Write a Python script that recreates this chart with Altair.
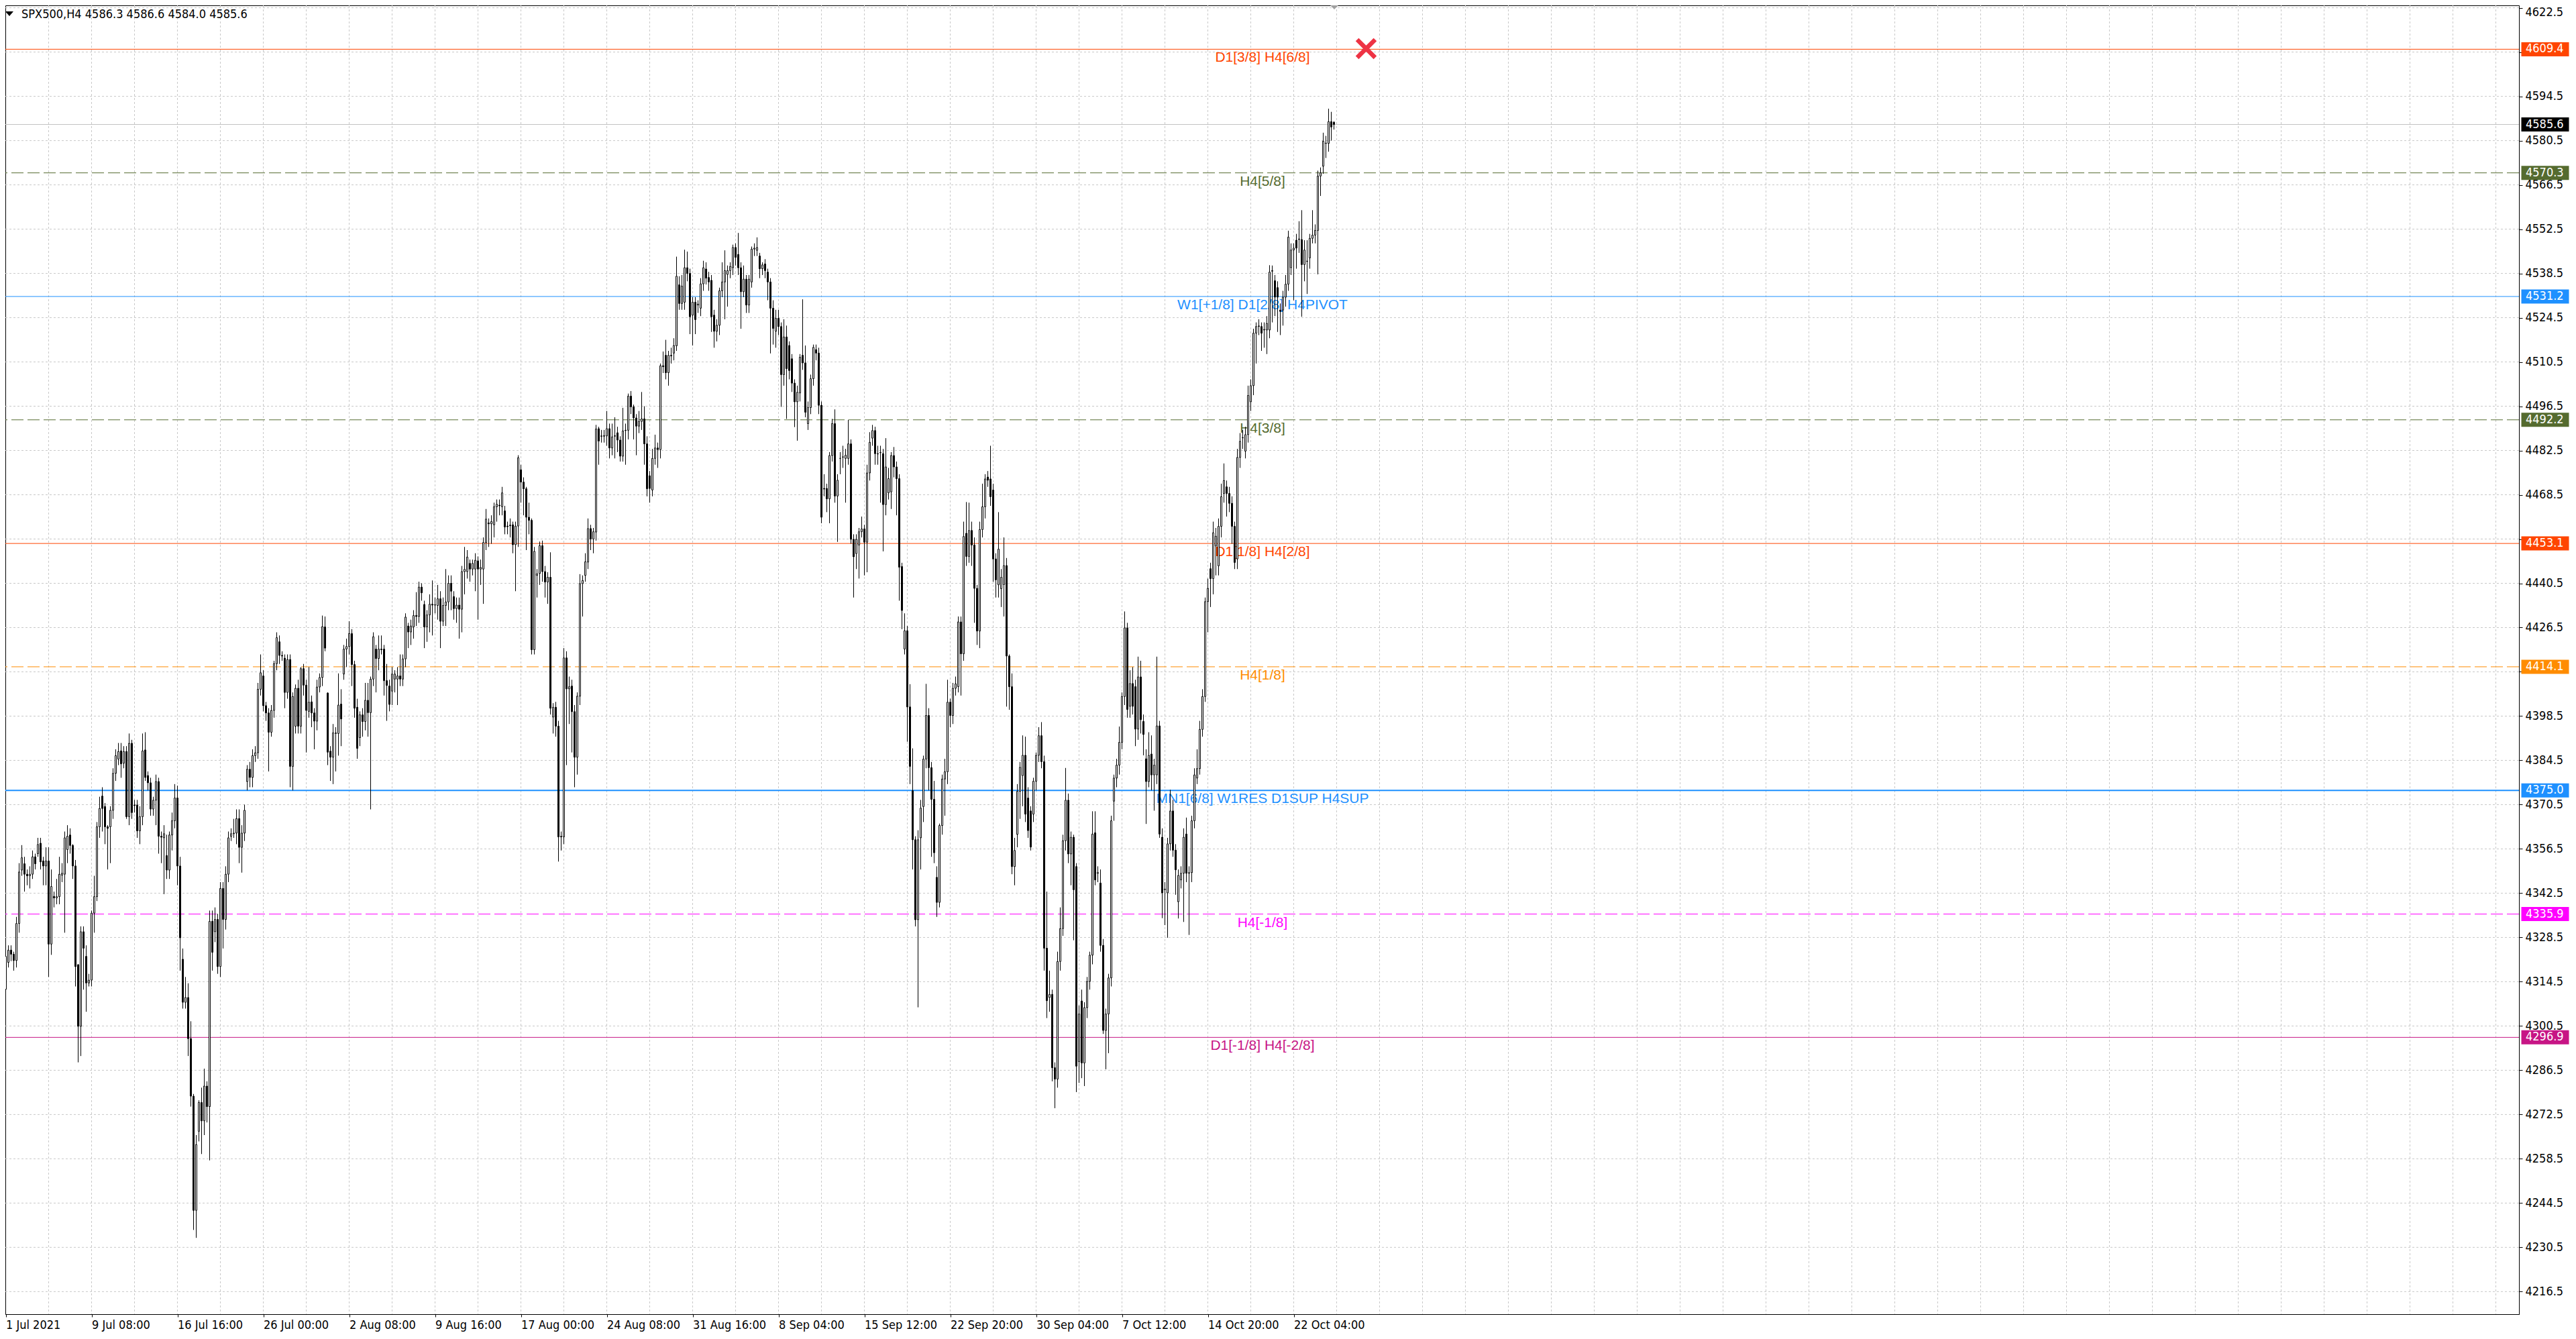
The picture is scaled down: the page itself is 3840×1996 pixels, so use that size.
import altair as alt
import pandas as pd

# ---------------- data (SPX500, H4 candles) ----------------
opens = [
    4312.1, 4320.6, 4324.5, 4323.2, 4321.2, 4332.9, 4349.8, 4351.8, 4348.5, 4348.0,
    4348.5, 4354.0, 4355.0, 4358.3, 4352.7, 4351.1, 4352.7, 4326.4, 4341.5, 4341.0,
    4341.4, 4348.2, 4348.5, 4356.3, 4360.9, 4357.6, 4351.1, 4319.9, 4300.4, 4330.3,
    4322.5, 4314.1, 4315.0, 4336.2, 4341.4, 4363.5, 4373.2, 4369.9, 4363.5, 4363.5,
    4368.7, 4380.4, 4384.9, 4387.5, 4383.6, 4387.3, 4366.7, 4389.9, 4370.4, 4370.4,
    4362.2, 4366.7, 4387.8, 4379.7, 4377.4, 4369.1, 4371.9, 4377.8, 4360.5, 4360.0,
    4354.4, 4349.8, 4360.9, 4365.4, 4372.6, 4351.1, 4321.6, 4308.0, 4309.5, 4296.5,
    4278.3, 4242.2, 4267.2, 4276.3, 4270.5, 4281.5, 4275.0, 4333.6, 4330.3, 4334.2,
    4319.3, 4344.0, 4334.2, 4348.5, 4360.5, 4361.3, 4361.5, 4366.1, 4357.0, 4361.5,
    4377.8, 4381.7, 4379.1, 4386.0, 4386.9, 4407.0, 4411.2, 4401.8, 4399.5, 4393.4,
    4400.3, 4415.1, 4422.0, 4417.7, 4416.8, 4406.0, 4416.4, 4382.6, 4395.3, 4407.3,
    4395.3, 4413.5, 4408.3, 4400.0, 4403.0, 4399.5, 4396.9, 4407.7, 4410.7, 4426.7,
    4405.8, 4387.4, 4385.5, 4393.0, 4393.0, 4402.3, 4411.8, 4419.7, 4420.5, 4424.6,
    4414.8, 4401.3, 4391.7, 4398.9, 4396.8, 4403.5, 4399.6, 4410.2, 4419.7, 4416.7,
    4419.7, 4419.7, 4409.7, 4408.0, 4406.4, 4410.2, 4410.2, 4411.2, 4410.2, 4416.6,
    4427.0, 4425.1, 4426.7, 4430.3, 4430.0, 4439.3, 4433.8, 4426.7, 4430.5, 4433.9,
    4433.6, 4433.5, 4435.6, 4428.5, 4433.5, 4434.6, 4440.5, 4436.3, 4432.5, 4433.6,
    4432.3, 4444.2, 4444.2, 4446.8, 4445.0, 4445.0, 4447.6, 4445.0, 4445.0, 4453.4,
    4459.6, 4459.3, 4459.0, 4464.7, 4465.2, 4464.7, 4463.4, 4458.6, 4458.9, 4459.0,
    4452.7, 4458.6, 4476.4, 4472.5, 4470.4, 4461.4, 4460.4, 4419.5, 4443.0, 4443.6,
    4452.4, 4444.2, 4440.9, 4442.4, 4398.2, 4401.3, 4395.3, 4360.5, 4360.3, 4416.9,
    4407.1, 4408.0, 4399.9, 4385.5, 4404.8, 4440.4, 4443.0, 4447.2, 4457.8, 4454.5,
    4456.7, 4489.4, 4487.1, 4487.0, 4487.1, 4489.4, 4483.3, 4487.0, 4488.1, 4485.8,
    4480.7, 4488.9, 4488.9, 4499.7, 4496.3, 4492.8, 4490.2, 4491.7, 4492.5, 4484.6,
    4474.5, 4470.0, 4480.0, 4483.3, 4482.8, 4509.3, 4512.6, 4507.1, 4512.6, 4513.3,
    4515.6, 4534.9, 4529.0, 4529.4, 4540.3, 4538.5, 4525.3, 4529.4, 4528.5, 4527.5,
    4535.2, 4539.9, 4537.2, 4536.3, 4525.3, 4520.2, 4522.1, 4533.0, 4535.8, 4538.2,
    4539.4, 4540.3, 4546.7, 4544.5, 4540.3, 4532.7, 4536.7, 4528.5, 4535.8, 4546.2,
    4545.8, 4544.0, 4540.0, 4541.5, 4538.9, 4535.8, 4527.5, 4520.2, 4524.3, 4521.7,
    4506.5, 4518.4, 4515.7, 4511.5, 4503.8, 4497.9, 4500.7, 4512.6, 4510.2, 4491.0,
    4496.1, 4505.2, 4514.4, 4513.3, 4496.8, 4470.5, 4470.5, 4467.2, 4480.9, 4491.0,
    4468.1, 4480.0, 4480.5, 4480.0, 4480.0, 4484.6, 4454.4, 4449.9, 4452.6, 4456.8,
    4457.7, 4453.5, 4475.4, 4486.4, 4488.8, 4481.5, 4481.8, 4481.5, 4465.4, 4469.1,
    4469.4, 4480.9, 4477.3, 4473.6, 4445.8, 4419.7, 4425.5, 4401.4, 4374.9, 4359.4,
    4334.1, 4360.0, 4369.9, 4384.9, 4398.7, 4382.2, 4372.2, 4347.5, 4339.6, 4363.9,
    4378.6, 4380.9, 4402.9, 4398.7, 4407.3, 4407.8, 4428.3, 4418.2, 4456.3, 4449.0,
    4457.2, 4452.6, 4438.9, 4425.4, 4457.5, 4464.7, 4474.1, 4473.5, 4470.0, 4448.2,
    4440.0, 4438.8, 4440.1, 4446.1, 4417.5, 4407.8, 4350.9, 4361.1, 4374.7, 4379.7,
    4386.1, 4372.6, 4368.5, 4367.5, 4377.9, 4386.1, 4392.3, 4384.1, 4325.1, 4309.5,
    4310.5, 4287.3, 4283.7, 4320.9, 4331.3, 4359.1, 4371.9, 4354.9, 4360.2, 4350.9,
    4289.2, 4308.4, 4288.8, 4306.3, 4314.6, 4322.9, 4361.6, 4348.8, 4345.7, 4326.0,
    4299.1, 4304.3, 4315.7, 4371.6, 4378.9, 4383.0, 4390.2, 4404.7, 4426.4, 4401.6,
    4408.8, 4407.8, 4394.4, 4410.9, 4396.8, 4385.0, 4377.8, 4386.5, 4379.9, 4379.9,
    4395.4, 4360.2, 4343.6, 4342.6, 4358.1, 4368.5, 4356.1, 4339.8, 4346.7, 4348.8,
    4361.2, 4348.8, 4349.0, 4365.4, 4378.9, 4381.9, 4394.3, 4404.7, 4434.7, 4445.1,
    4442.0, 4452.3, 4446.0, 4458.5, 4468.9, 4471.0, 4468.9, 4465.8, 4458.5, 4448.2,
    4480.3, 4486.5, 4482.3, 4487.5, 4497.9, 4503.0, 4519.6, 4521.7, 4521.7, 4520.6,
    4520.6, 4520.6, 4539.2, 4536.2, 4534.0, 4526.9, 4526.9, 4531.0, 4535.1, 4540.3,
    4545.9, 4549.0, 4549.2, 4549.2, 4541.3, 4542.4, 4543.4, 4549.6, 4550.6, 4552.1,
    4569.3, 4572.4, 4579.7, 4579.6, 4586.5, 4586.3,
]
highs = [
    4323.0, 4326.0, 4326.0, 4324.0, 4335.0, 4352.0, 4357.7, 4354.0, 4350.0, 4351.0,
    4356.0, 4355.0, 4360.0, 4360.0, 4354.0, 4357.0, 4357.0, 4350.0, 4343.0, 4347.0,
    4354.0, 4352.0, 4362.0, 4364.0, 4363.0, 4358.0, 4353.0, 4320.0, 4332.0, 4332.0,
    4326.0, 4317.0, 4337.0, 4348.0, 4365.0, 4373.0, 4376.0, 4371.0, 4364.0, 4370.0,
    4382.0, 4388.0, 4390.0, 4390.0, 4389.0, 4389.0, 4393.0, 4391.0, 4372.0, 4372.0,
    4370.0, 4393.0, 4393.4, 4381.0, 4379.0, 4373.0, 4380.0, 4379.0, 4362.0, 4364.0,
    4361.0, 4362.0, 4368.0, 4377.0, 4376.5, 4354.0, 4325.0, 4316.0, 4314.0, 4302.0,
    4279.0, 4266.0, 4277.0, 4281.0, 4287.0, 4283.0, 4337.0, 4337.0, 4338.0, 4336.0,
    4346.0, 4346.0, 4351.0, 4362.0, 4363.0, 4366.0, 4369.0, 4369.0, 4364.0, 4370.5,
    4383.0, 4384.0, 4388.0, 4389.0, 4409.0, 4418.0, 4413.0, 4403.0, 4401.0, 4402.0,
    4416.0, 4425.0, 4424.0, 4419.0, 4418.0, 4418.0, 4418.0, 4406.0, 4408.5, 4410.0,
    4414.0, 4415.0, 4410.0, 4414.0, 4405.0, 4401.0, 4410.0, 4412.0, 4430.3, 4430.0,
    4406.0, 4389.0, 4396.0, 4395.0, 4412.0, 4407.0, 4421.0, 4423.0, 4428.5, 4426.0,
    4416.0, 4404.0, 4400.0, 4401.0, 4409.0, 4409.0, 4411.0, 4425.0, 4421.0, 4424.0,
    4424.0, 4421.0, 4415.0, 4410.0, 4414.0, 4413.0, 4414.0, 4418.0, 4418.0, 4431.0,
    4428.0, 4429.0, 4432.0, 4437.7, 4441.0, 4440.5, 4435.0, 4432.0, 4437.0, 4441.4,
    4436.0, 4440.0, 4438.0, 4436.0, 4445.0, 4443.0, 4443.0, 4438.0, 4436.0, 4436.0,
    4446.0, 4452.0, 4451.0, 4448.0, 4448.0, 4450.0, 4449.0, 4448.0, 4455.0, 4464.0,
    4461.0, 4462.0, 4466.0, 4467.0, 4467.0, 4471.0, 4465.0, 4460.0, 4461.0, 4460.0,
    4460.0, 4481.0, 4478.0, 4474.0, 4471.0, 4466.0, 4461.0, 4452.0, 4445.0, 4453.7,
    4454.0, 4446.0, 4444.0, 4450.3, 4402.6, 4403.0, 4397.0, 4362.0, 4420.0, 4419.0,
    4411.0, 4410.0, 4402.0, 4406.0, 4443.4, 4443.0, 4450.0, 4461.0, 4459.0, 4458.0,
    4490.6, 4490.0, 4489.0, 4489.0, 4495.0, 4491.0, 4491.0, 4493.0, 4490.0, 4487.0,
    4496.0, 4491.0, 4500.5, 4501.3, 4497.0, 4494.0, 4495.0, 4501.0, 4496.5, 4487.0,
    4476.0, 4483.0, 4487.5, 4485.0, 4510.0, 4513.8, 4517.5, 4514.0, 4515.0, 4518.0,
    4543.8, 4537.6, 4538.0, 4546.0, 4545.4, 4540.0, 4531.0, 4531.0, 4530.0, 4537.0,
    4542.5, 4542.0, 4539.0, 4538.0, 4527.0, 4524.0, 4534.0, 4542.0, 4545.8, 4541.0,
    4542.0, 4547.6, 4548.0, 4551.3, 4542.0, 4541.0, 4538.0, 4538.0, 4547.0, 4548.0,
    4549.9, 4545.0, 4542.0, 4543.0, 4540.0, 4537.0, 4530.0, 4527.0, 4527.0, 4523.0,
    4524.0, 4522.0, 4517.0, 4513.0, 4505.0, 4503.0, 4513.0, 4530.3, 4515.7, 4498.0,
    4506.5, 4516.0, 4516.0, 4515.0, 4498.0, 4475.0, 4472.0, 4482.0, 4492.5, 4495.5,
    4475.0, 4482.0, 4484.0, 4483.0, 4492.2, 4486.0, 4456.0, 4456.0, 4458.0, 4461.6,
    4459.0, 4478.0, 4488.3, 4490.6, 4490.0, 4484.0, 4484.0, 4483.0, 4486.4, 4477.0,
    4482.0, 4483.6, 4479.0, 4475.0, 4447.0, 4431.0, 4427.0, 4408.6, 4388.3, 4360.5,
    4362.4, 4372.0, 4386.0, 4408.7, 4401.0, 4384.0, 4378.0, 4351.0, 4364.5, 4380.0,
    4385.0, 4410.0, 4404.0, 4409.0, 4411.0, 4430.0, 4430.0, 4460.0, 4466.2, 4466.0,
    4460.0, 4455.0, 4440.0, 4460.0, 4472.0, 4475.0, 4476.0, 4484.0, 4472.0, 4450.0,
    4463.0, 4445.0, 4455.0, 4448.5, 4418.0, 4412.0, 4360.0, 4377.0, 4384.0, 4392.4,
    4392.0, 4376.0, 4370.0, 4379.0, 4387.0, 4395.0, 4396.6, 4386.0, 4343.0, 4318.0,
    4312.0, 4289.0, 4324.0, 4338.0, 4361.0, 4382.1, 4374.0, 4362.0, 4361.0, 4352.0,
    4307.0, 4312.0, 4308.0, 4316.0, 4324.0, 4368.4, 4368.4, 4351.0, 4350.0, 4328.0,
    4306.0, 4317.0, 4367.0, 4380.0, 4385.0, 4395.2, 4406.0, 4431.6, 4428.0, 4413.0,
    4414.0, 4410.0, 4417.3, 4416.0, 4399.0, 4388.0, 4393.4, 4392.4, 4385.0, 4417.3,
    4397.0, 4363.0, 4346.0, 4360.0, 4375.2, 4372.0, 4358.0, 4350.0, 4351.0, 4363.0,
    4366.4, 4351.0, 4367.0, 4382.0, 4388.0, 4397.0, 4407.0, 4436.0, 4442.0, 4447.0,
    4460.0, 4458.0, 4461.0, 4472.0, 4478.4, 4473.0, 4471.0, 4468.0, 4460.0, 4483.0,
    4488.0, 4489.0, 4490.0, 4503.0, 4505.0, 4521.0, 4523.0, 4524.0, 4523.0, 4523.0,
    4525.0, 4541.1, 4541.0, 4538.0, 4536.0, 4529.0, 4533.0, 4538.0, 4552.0, 4548.0,
    4548.0, 4551.0, 4555.0, 4558.5, 4549.0, 4549.0, 4551.0, 4558.5, 4554.0, 4571.0,
    4572.0, 4583.0, 4582.0, 4590.6, 4589.6, 4586.6,
]
lows = [
    4311.0, 4319.0, 4321.0, 4318.0, 4319.0, 4330.0, 4348.0, 4343.0, 4345.0, 4344.0,
    4347.0, 4350.0, 4354.0, 4350.0, 4345.0, 4345.0, 4316.0, 4323.0, 4338.0, 4339.0,
    4339.0, 4346.0, 4330.0, 4352.0, 4355.0, 4347.0, 4313.0, 4289.0, 4291.0, 4312.0,
    4305.0, 4313.0, 4313.0, 4330.0, 4340.0, 4360.0, 4362.0, 4358.0, 4350.0, 4352.0,
    4366.0, 4378.0, 4383.0, 4379.0, 4382.0, 4366.0, 4364.0, 4366.0, 4368.0, 4360.0,
    4358.0, 4364.0, 4378.0, 4375.0, 4367.0, 4367.0, 4364.0, 4355.0, 4352.0, 4342.2,
    4347.0, 4347.0, 4356.0, 4363.0, 4345.0, 4318.0, 4306.0, 4306.0, 4291.0, 4275.0,
    4236.0, 4233.5, 4264.0, 4260.0, 4266.0, 4270.0, 4258.0, 4318.0, 4327.0, 4317.0,
    4316.0, 4325.0, 4331.0, 4346.0, 4359.0, 4360.0, 4358.0, 4352.0, 4349.0, 4359.0,
    4375.0, 4376.0, 4376.0, 4384.0, 4385.0, 4405.0, 4400.0, 4397.0, 4381.0, 4392.0,
    4398.0, 4413.0, 4415.0, 4416.0, 4401.0, 4404.0, 4376.0, 4375.0, 4393.0, 4393.0,
    4393.0, 4405.0, 4387.0, 4398.0, 4395.0, 4388.0, 4394.0, 4406.0, 4408.0, 4419.0,
    4383.0, 4378.0, 4377.0, 4381.0, 4386.0, 4389.0, 4410.0, 4414.0, 4418.0, 4408.0,
    4398.0, 4385.0, 4389.0, 4392.0, 4394.0, 4392.0, 4369.0, 4408.0, 4406.0, 4413.0,
    4418.0, 4405.0, 4397.0, 4400.0, 4402.0, 4406.0, 4402.0, 4408.0, 4408.0, 4414.0,
    4420.0, 4421.0, 4423.0, 4427.0, 4428.0, 4435.0, 4420.0, 4422.0, 4425.0, 4424.0,
    4431.0, 4429.0, 4420.0, 4427.0, 4427.0, 4432.0, 4432.0, 4429.0, 4428.0, 4423.0,
    4425.0, 4437.0, 4442.0, 4441.0, 4443.0, 4438.0, 4429.0, 4440.0, 4434.0, 4451.0,
    4452.0, 4453.0, 4455.0, 4460.0, 4462.0, 4462.0, 4456.0, 4456.0, 4455.0, 4450.0,
    4438.0, 4452.0, 4466.0, 4462.0, 4451.0, 4456.0, 4418.0, 4418.0, 4436.0, 4440.0,
    4441.0, 4436.0, 4434.0, 4399.0, 4393.0, 4392.0, 4352.5, 4356.0, 4358.0, 4383.0,
    4396.0, 4387.0, 4376.0, 4380.0, 4402.0, 4430.0, 4441.0, 4445.0, 4451.0, 4450.0,
    4454.0, 4478.0, 4485.0, 4485.0, 4484.0, 4480.0, 4481.0, 4480.0, 4482.0, 4479.0,
    4479.0, 4478.0, 4486.0, 4494.0, 4486.0, 4481.0, 4488.0, 4489.0, 4478.0, 4468.0,
    4466.0, 4468.0, 4478.0, 4477.0, 4480.0, 4507.0, 4505.0, 4503.0, 4510.0, 4511.0,
    4514.0, 4527.0, 4527.0, 4527.0, 4536.0, 4519.3, 4515.7, 4519.3, 4526.0, 4525.0,
    4533.0, 4535.0, 4533.0, 4520.0, 4515.0, 4517.0, 4519.0, 4531.0, 4524.0, 4528.0,
    4537.0, 4538.0, 4541.0, 4538.0, 4521.0, 4531.0, 4526.0, 4526.0, 4534.0, 4544.0,
    4544.0, 4537.0, 4538.0, 4537.0, 4530.0, 4513.2, 4516.0, 4515.0, 4519.0, 4496.3,
    4503.0, 4492.5, 4505.0, 4501.0, 4489.9, 4485.6, 4498.0, 4508.0, 4493.0, 4489.0,
    4494.0, 4503.0, 4511.0, 4494.0, 4459.5, 4468.0, 4463.0, 4459.5, 4479.0, 4466.0,
    4453.6, 4475.0, 4477.0, 4466.0, 4478.0, 4453.0, 4436.0, 4445.0, 4442.0, 4455.0,
    4443.0, 4444.0, 4473.0, 4484.0, 4478.0, 4478.0, 4466.0, 4450.6, 4462.0, 4467.0,
    4464.0, 4474.0, 4462.0, 4435.0, 4426.0, 4418.0, 4390.4, 4377.0, 4350.0, 4332.0,
    4306.4, 4350.0, 4365.0, 4382.0, 4375.0, 4354.0, 4352.0, 4335.0, 4338.0, 4361.0,
    4367.0, 4377.0, 4395.0, 4396.0, 4405.0, 4406.0, 4405.0, 4416.0, 4446.0, 4447.0,
    4446.0, 4428.0, 4421.0, 4420.0, 4455.0, 4461.0, 4471.0, 4465.0, 4441.0, 4436.0,
    4436.0, 4433.0, 4430.0, 4401.5, 4400.5, 4348.5, 4345.0, 4357.0, 4366.0, 4370.0,
    4365.0, 4360.0, 4356.0, 4365.0, 4375.0, 4384.0, 4382.0, 4318.0, 4303.0, 4305.0,
    4283.0, 4274.5, 4281.0, 4318.0, 4329.0, 4356.0, 4352.0, 4345.0, 4327.6, 4279.6,
    4282.5, 4284.0, 4281.5, 4303.0, 4312.0, 4320.0, 4345.0, 4346.0, 4324.0, 4298.0,
    4286.8, 4291.9, 4313.0, 4365.4, 4376.0, 4380.0, 4388.0, 4402.0, 4398.0, 4398.0,
    4399.0, 4389.0, 4391.0, 4393.0, 4386.1, 4364.4, 4376.0, 4375.0, 4368.6, 4377.0,
    4360.0, 4334.6, 4332.4, 4328.4, 4356.0, 4354.0, 4342.0, 4334.5, 4344.0, 4333.4,
    4346.0, 4329.3, 4346.0, 4363.0, 4377.0, 4380.0, 4392.0, 4403.0, 4425.0, 4433.0,
    4437.0, 4443.0, 4443.0, 4455.0, 4466.0, 4461.6, 4463.0, 4453.0, 4445.0, 4445.0,
    4477.0, 4483.0, 4480.0, 4485.0, 4495.0, 4500.0, 4510.0, 4519.0, 4514.0, 4515.0,
    4513.0, 4518.0, 4523.0, 4525.0, 4520.0, 4519.0, 4522.0, 4528.0, 4533.0, 4538.0,
    4530.0, 4540.0, 4545.0, 4524.8, 4536.0, 4532.0, 4540.0, 4548.0, 4548.0, 4538.2,
    4563.0, 4570.0, 4575.0, 4577.0, 4580.5, 4584.0,
]
closes = [
    4322.5, 4324.5, 4323.2, 4321.2, 4332.9, 4349.2, 4353.7, 4348.5, 4348.0, 4348.5,
    4354.0, 4351.8, 4357.9, 4352.4, 4351.1, 4352.7, 4326.4, 4344.6, 4341.0, 4341.4,
    4348.5, 4348.8, 4360.0, 4360.5, 4357.6, 4351.1, 4319.3, 4300.4, 4330.3, 4325.1,
    4314.1, 4315.0, 4336.2, 4341.4, 4363.5, 4369.3, 4369.3, 4363.5, 4363.0, 4368.7,
    4380.4, 4386.0, 4387.3, 4383.4, 4387.3, 4366.7, 4389.9, 4368.0, 4370.2, 4362.2,
    4366.7, 4387.5, 4379.1, 4377.4, 4369.1, 4371.9, 4377.8, 4360.5, 4360.2, 4361.3,
    4349.8, 4360.9, 4365.4, 4372.6, 4351.1, 4328.4, 4308.0, 4309.5, 4296.5, 4278.3,
    4242.2, 4263.0, 4276.3, 4270.5, 4281.5, 4275.0, 4333.6, 4323.8, 4334.2, 4319.3,
    4344.0, 4334.2, 4348.5, 4360.0, 4361.3, 4361.5, 4366.1, 4357.0, 4361.5, 4368.7,
    4381.7, 4379.1, 4386.0, 4386.9, 4407.0, 4412.2, 4401.8, 4399.5, 4393.4, 4400.3,
    4415.1, 4423.3, 4417.7, 4417.5, 4406.0, 4416.4, 4382.6, 4404.7, 4407.3, 4395.3,
    4413.5, 4408.3, 4400.3, 4402.9, 4399.5, 4396.9, 4407.7, 4410.7, 4426.8, 4420.0,
    4387.1, 4385.5, 4393.2, 4393.2, 4402.0, 4397.6, 4419.7, 4420.5, 4424.6, 4414.8,
    4401.0, 4388.3, 4398.9, 4396.8, 4403.5, 4399.6, 4410.2, 4423.6, 4416.7, 4419.7,
    4419.5, 4409.7, 4408.2, 4402.2, 4411.8, 4411.8, 4411.2, 4410.2, 4416.6, 4429.8,
    4425.1, 4427.0, 4430.3, 4430.0, 4439.3, 4437.5, 4426.7, 4430.5, 4433.9, 4433.6,
    4433.7, 4435.6, 4428.5, 4433.5, 4434.6, 4440.5, 4438.0, 4432.5, 4433.6, 4432.3,
    4444.2, 4444.9, 4448.8, 4445.0, 4446.8, 4447.8, 4445.0, 4445.5, 4453.4, 4460.8,
    4459.3, 4460.0, 4464.7, 4465.5, 4465.0, 4469.1, 4458.3, 4458.4, 4458.7, 4452.7,
    4458.6, 4480.2, 4472.5, 4470.4, 4461.4, 4460.4, 4419.5, 4450.6, 4443.5, 4452.4,
    4444.2, 4440.9, 4442.4, 4401.0, 4401.3, 4395.3, 4360.3, 4360.3, 4416.9, 4407.1,
    4407.8, 4399.9, 4385.5, 4404.8, 4440.4, 4441.4, 4447.3, 4457.8, 4454.5, 4456.8,
    4489.3, 4485.5, 4487.0, 4487.2, 4489.4, 4483.3, 4486.8, 4487.2, 4485.8, 4480.7,
    4488.7, 4488.8, 4499.7, 4496.3, 4492.8, 4490.2, 4491.7, 4492.5, 4484.6, 4470.4,
    4470.5, 4480.0, 4483.3, 4482.8, 4509.3, 4509.0, 4507.1, 4512.6, 4512.4, 4515.7,
    4537.6, 4529.0, 4534.5, 4540.3, 4538.5, 4524.8, 4529.4, 4523.9, 4528.8, 4535.2,
    4540.3, 4537.0, 4535.8, 4524.8, 4520.2, 4522.1, 4533.0, 4535.8, 4539.4, 4539.4,
    4540.7, 4546.7, 4543.6, 4540.3, 4532.7, 4536.7, 4528.5, 4536.7, 4546.2, 4546.5,
    4546.7, 4540.0, 4541.2, 4539.4, 4535.8, 4527.5, 4521.1, 4524.3, 4521.7, 4506.5,
    4518.4, 4508.4, 4507.8, 4503.8, 4497.9, 4500.9, 4512.0, 4510.2, 4494.6, 4496.1,
    4505.2, 4515.1, 4513.3, 4496.8, 4461.4, 4470.3, 4467.2, 4480.9, 4491.0, 4468.1,
    4473.1, 4480.0, 4480.4, 4481.0, 4484.6, 4454.4, 4448.9, 4454.4, 4456.8, 4457.7,
    4453.5, 4475.4, 4485.1, 4488.8, 4481.5, 4481.4, 4481.9, 4465.4, 4477.3, 4473.6,
    4480.9, 4477.3, 4473.6, 4445.6, 4431.9, 4425.5, 4401.4, 4382.6, 4359.4, 4334.1,
    4359.4, 4369.4, 4384.9, 4398.7, 4382.2, 4372.2, 4355.3, 4339.6, 4363.9, 4378.6,
    4380.9, 4402.9, 4398.7, 4407.3, 4408.7, 4428.3, 4418.2, 4455.3, 4449.0, 4457.2,
    4452.6, 4438.9, 4425.4, 4457.5, 4464.7, 4473.5, 4473.1, 4467.9, 4448.2, 4441.6,
    4451.3, 4442.4, 4446.1, 4417.5, 4407.8, 4350.9, 4356.0, 4374.7, 4382.3, 4386.1,
    4367.5, 4362.3, 4357.1, 4377.9, 4386.1, 4392.3, 4384.1, 4325.1, 4308.5, 4310.5,
    4287.3, 4283.7, 4320.9, 4331.3, 4359.1, 4371.9, 4354.9, 4360.2, 4343.6, 4287.8,
    4304.3, 4288.8, 4306.3, 4314.6, 4322.9, 4361.2, 4346.7, 4349.0, 4326.0, 4299.1,
    4304.3, 4315.7, 4365.4, 4378.9, 4383.0, 4390.2, 4404.7, 4426.4, 4400.6, 4408.8,
    4401.6, 4394.4, 4410.9, 4397.4, 4392.7, 4377.8, 4386.1, 4379.9, 4383.0, 4395.4,
    4361.2, 4342.6, 4343.8, 4358.1, 4368.5, 4356.1, 4349.9, 4348.1, 4348.8, 4360.2,
    4348.8, 4349.0, 4365.4, 4379.9, 4381.9, 4394.3, 4404.7, 4434.7, 4438.9, 4442.0,
    4456.5, 4455.4, 4458.5, 4467.9, 4473.0, 4468.9, 4465.8, 4458.5, 4447.1, 4480.3,
    4485.4, 4486.6, 4487.5, 4499.9, 4503.0, 4519.6, 4521.7, 4521.9, 4519.6, 4520.8,
    4522.7, 4538.9, 4539.4, 4531.0, 4531.0, 4526.5, 4531.0, 4535.1, 4550.0, 4545.9,
    4546.5, 4546.5, 4549.4, 4541.3, 4545.9, 4542.3, 4549.6, 4550.6, 4552.1, 4569.3,
    4570.3, 4580.3, 4579.6, 4586.5, 4584.8, 4585.6,
]
assert len(opens) == len(highs) == len(lows) == len(closes) == 496

# time-axis labels, one every 32 bars
time_labels = [
    "1 Jul 2021", "9 Jul 08:00", "16 Jul 16:00", "26 Jul 00:00", "2 Aug 08:00",
    "9 Aug 16:00", "17 Aug 00:00", "24 Aug 08:00", "31 Aug 16:00", "8 Sep 04:00",
    "15 Sep 12:00", "22 Sep 20:00", "30 Sep 04:00", "7 Oct 12:00", "14 Oct 20:00",
    "22 Oct 04:00",
]
label_step = 32
grid_step = 16

price_ticks = [
    4216.5, 4230.5, 4244.5, 4258.5, 4272.5, 4286.5, 4300.5, 4314.5, 4328.5, 4342.5,
    4356.5, 4370.5, 4384.5, 4398.5, 4412.5, 4426.5, 4440.5, 4454.5, 4468.5, 4482.5,
    4496.5, 4510.5, 4524.5, 4538.5, 4552.5, 4566.5, 4580.5, 4594.5, 4608.5, 4622.5,
]

level_prices = [4609.4, 4570.3, 4531.2, 4492.2, 4453.1, 4414.1, 4375.0, 4335.9, 4296.9]
level_texts = [
    "D1[3/8] H4[6/8]", "H4[5/8]", "W1[+1/8] D1[2/8] H4PIVOT", "H4[3/8]",
    "D1[1/8] H4[2/8]", "H4[1/8]", "MN1[6/8] W1RES D1SUP H4SUP", "H4[-1/8]",
    "D1[-1/8] H4[-2/8]",
]
level_colors = ["#FF4500", "#556B2F", "#1E90FF", "#556B2F", "#FF4500",
                "#FF8C00", "#1E90FF", "#FF00FF", "#C71585"]
level_dashed = [False, True, False, True, False, True, False, True, False]
level_widths = [1, 1, 1, 1, 1, 1, 2, 1, 1]

last_price = 4585.6
title_text = "SPX500,H4  4586.3 4586.6 4584.0 4585.6"
marker_bar = [507]
marker_price = [4609.6]

# ---------------- layout ----------------
W, H = 3747, 1951
FONT = "DejaVu Sans Condensed, DejaVu Sans"
xs = alt.Scale(domain=[-0.125, 936.625], nice=False, zero=False)
ys = alt.Scale(domain=[4209.36, 4623.27], nice=False, zero=False)

df = pd.DataFrame({"bar": list(range(len(closes))), "open": opens, "high": highs,
                   "low": lows, "close": closes})
df["top"] = df[["open", "close"]].max(axis=1)
df["bot"] = df[["open", "close"]].min(axis=1)
df["hi"] = df[["high", "top"]].max(axis=1)
df["lo"] = df[["low", "bot"]].min(axis=1)
df["xl"] = df["bar"] - 0.25
df["xr"] = df["bar"] + 0.25
df["fill"] = ["#FFFFFF" if c >= o else "#000000" for o, c in zip(opens, closes)]

label_expr = "[" + ",".join("'%s'" % s for s in time_labels) + "][round(datum.value / %d)]" % label_step
x_axis = alt.Axis(values=[i * label_step for i in range(len(time_labels))], labelExpr=label_expr,
                  orient="bottom", labelAlign="left", labelBaseline="top", labelPadding=3,
                  tickSize=4, tickColor="black", domainColor="black", labelFont=FONT,
                  labelFontSize=18, labelColor="black", grid=False, title=None,
                  labelFlush=False, labelOverlap=False)

# price labels completely covered by a level box are not shown
hidden = [t for t in price_ticks if min(abs(t - p) for p in level_prices + [last_price]) < 2.0]
hide_test = " || ".join("abs(datum.value - %s) < 0.01" % t for t in hidden) or "false"
top_tick = max(price_ticks)
y_axis = alt.Axis(values=price_ticks, orient="right", labelFont=FONT,
                  labelExpr="(%s) ? '' : format(datum.value, '.1f')" % hide_test,
                  labelFontSize=18, labelColor="black", tickSize=5, tickColor="black",
                  domainColor="black", labelPadding=4, grid=False, title=None,
                  labelOverlap=False, labelFlush=False,
                  labelOffset={"condition": {"test": "datum.value > %s" % (top_tick - 1), "value": 7},
                               "value": 0})


def X(field):
    return alt.X(field, scale=xs, axis=x_axis)


def Y(field):
    return alt.Y(field, scale=ys, axis=y_axis)


hgrid = alt.Chart(pd.DataFrame({"p": price_ticks})).mark_rule(
    color="#C8C8C8", strokeDash=[3, 3], strokeWidth=1).encode(y=Y("p:Q"))
vgrid = alt.Chart(pd.DataFrame({"g": list(range(grid_step, 936, grid_step))})).mark_rule(
    color="#C8C8C8", strokeDash=[3, 3], strokeWidth=1).encode(x=X("g:Q"))

lv = pd.DataFrame({"price": level_prices, "text": level_texts, "color": level_colors,
                   "dashed": level_dashed, "w": level_widths})
solid_lines = alt.Chart(lv[~lv["dashed"]]).mark_rule().encode(
    y=Y("price:Q"), color=alt.Color("color:N", scale=None),
    strokeWidth=alt.StrokeWidth("w:Q", scale=None))
dashed_lines = alt.Chart(lv[lv["dashed"]]).mark_rule(strokeDash=[18, 6]).encode(
    y=Y("price:Q"), color=alt.Color("color:N", scale=None),
    strokeWidth=alt.StrokeWidth("w:Q", scale=None))
price_line = alt.Chart(pd.DataFrame({"p": [last_price]})).mark_rule(
    color="#C0C0C0", strokeWidth=1).encode(y=Y("p:Q"))
level_labels = alt.Chart(lv).mark_text(
    font="Liberation Sans, Arial", fontSize=21, align="center", baseline="alphabetic", dy=19
).encode(x=alt.value(1874), y=Y("price:Q"), text="text:N",
         color=alt.Color("color:N", scale=None))

wicks = alt.Chart(df).mark_rule(color="black", strokeWidth=1).encode(
    x=X("bar:Q"), y=Y("lo:Q"), y2="hi:Q")
bodies = alt.Chart(df).mark_rect(stroke="black", strokeWidth=1).encode(
    x=X("xl:Q"), x2="xr:Q", y=Y("top:Q"), y2="bot:Q",
    fill=alt.Fill("fill:N", scale=None))

x_path = ("M-0.85,-0.6 L-0.6,-0.85 L0,-0.25 L0.6,-0.85 L0.85,-0.6 L0.25,0 "
          "L0.85,0.6 L0.6,0.85 L0,0.25 L-0.6,0.85 L-0.85,0.6 L-0.25,0 Z")
marker = alt.Chart(pd.DataFrame({"b": marker_bar, "p": marker_price})).mark_point(
    shape=x_path, size=1369, filled=True, color="#EE3344", opacity=1, strokeWidth=0
).encode(x=X("b:Q"), y=Y("p:Q"))

one = pd.DataFrame({"t": [title_text]})
title = alt.Chart(one).mark_text(font=FONT, fontSize=18, align="left", baseline="middle",
                                 color="black").encode(
    x=alt.value(24), y=alt.value(14), text="t:N")
tri = alt.Chart(one).mark_point(shape="M-1,-0.6 L1,-0.6 L0,0.6 Z", size=144, filled=True,
                                color="black", opacity=1, strokeWidth=0).encode(
    x=alt.value(6), y=alt.value(12.5))
shift_tri = alt.Chart(one).mark_point(shape="M-1,-0.5 L1,-0.5 L0,0.5 Z", size=144, filled=True,
                                      color="#A0A0A0", opacity=1, strokeWidth=0).encode(
    x=alt.value(1981), y=alt.value(3))

bx = pd.DataFrame({"price": level_prices + [last_price],
                   "color": level_colors + ["#000000"]})
bx["label"] = ["%.1f" % p for p in bx["price"]]
boxes = alt.Chart(bx).mark_tick(orient="horizontal", size=71, thickness=21, opacity=1).encode(
    x=alt.value(W + 39), y=Y("price:Q"), color=alt.Color("color:N", scale=None))
box_text = alt.Chart(bx).mark_text(font=FONT, fontSize=18, align="left", baseline="middle",
                                   color="white").encode(
    x=alt.value(W + 10), y=Y("price:Q"), text="label:N")

chart = alt.layer(
    hgrid, vgrid, solid_lines, dashed_lines, price_line, level_labels,
    wicks, bodies, marker, title, tri, shift_tri, boxes, box_text
).properties(
    width=W, height=H,
    padding={"left": 0, "top": 0, "right": 76, "bottom": 26},
    autosize=alt.AutoSizeParams(type="none"),
    background="white",
).configure_view(stroke="black", strokeWidth=1)

chart.save("out.html", embed_options={"renderer": "svg", "actions": False})
